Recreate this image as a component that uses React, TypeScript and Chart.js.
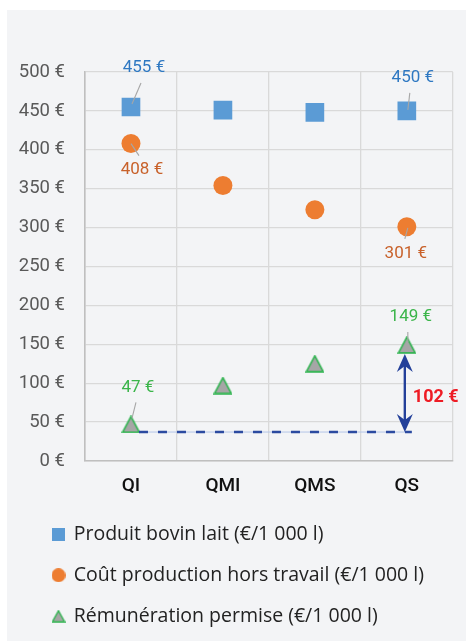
import { useEffect, useRef } from "react";
import { Chart, registerables } from "chart.js";

Chart.register(...registerables);

// ---- data ----
const categories = ["QI", "QMI", "QMS", "QS"];
const produitBovin = [455, 451, 448, 450];
const coutProduction = [408, 354, 323, 301];
const remuneration = [47, 97, 125, 149];
const seriesNames = [
  "Produit bovin lait (€/1 000 l)",
  "Coût production hors travail (€/1 000 l)",
  "Rémunération permise (€/1 000 l)",
];
const yMin = 0;
const yMax = 500;
const yStep = 50;

// labelled points: dataset index, category index
const labelledPoints = [
  { ds: 0, i: 0 },
  { ds: 1, i: 0 },
  { ds: 0, i: 3 },
  { ds: 1, i: 3 },
  { ds: 2, i: 0 },
  { ds: 2, i: 3 },
];
// gap annotation between the remuneration of the first and the last category
const gapFromIndex = 0;
const gapToIndex = 3;

// ---- styles (positions relative to the points, in px) ----
const labelLayout = [
  { dx: 13, dy: -39, l: [10, -24, 1, -3] },
  { dx: 11, dy: 26, l: [0, 0, 8, 12] },
  { dx: 6, dy: -33, l: [3, -18, 1, -1] },
  { dx: -1, dy: 27, l: [1, 1, -2, 12] },
  { dx: 7, dy: -37, l: [5, -22, 1, -6] },
  { dx: 4, dy: -28, l: [1, -13, 1, -3] },
];
const labelColors = ["#2e78c2", "#c8612a", "#3bb54a"];
const FONT = "Roboto, 'Noto Sans', sans-serif";
const LEGEND_FONT = "'Open Sans', Roboto, sans-serif";

function makeMarker(shape: string, w: number, h: number, fill: string, stroke?: string, lw = 0) {
  const c = document.createElement("canvas");
  c.width = w;
  c.height = h;
  const ctx = c.getContext("2d")!;
  ctx.fillStyle = fill;
  if (shape === "rect") {
    ctx.fillRect(0, 0, w, h);
  } else if (shape === "circle") {
    ctx.beginPath();
    ctx.arc(w / 2, h / 2, Math.min(w, h) / 2, 0, Math.PI * 2);
    ctx.fill();
  } else {
    const p = lw / 2 + 0.3;
    ctx.beginPath();
    ctx.moveTo(w / 2, p);
    ctx.lineTo(w - p, h - p);
    ctx.lineTo(p, h - p);
    ctx.closePath();
    ctx.fill();
    if (stroke) {
      ctx.strokeStyle = stroke;
      ctx.lineWidth = lw;
      ctx.lineJoin = "miter";
      ctx.stroke();
    }
  }
  return c;
}

function drawArrowHead(ctx: CanvasRenderingContext2D, x: number, tipY: number, dir: number) {
  // dir = 1 : pointing up (tip on top), -1 : pointing down
  const len = 18;
  const half = 8;
  const notch = 12;
  ctx.beginPath();
  ctx.moveTo(x, tipY);
  ctx.lineTo(x + half, tipY + dir * len);
  ctx.lineTo(x, tipY + dir * notch);
  ctx.lineTo(x - half, tipY + dir * len);
  ctx.closePath();
  ctx.fill();
}

export default function App() {
  const ref = useRef<HTMLCanvasElement | null>(null);

  useEffect(() => {
    if (!ref.current) return;

    const triPoint = makeMarker("triangle", 19, 18, "#a6a6a6", "#2fb34f", 1.6);
    const legendMarkers = [
      makeMarker("rect", 13, 13, "#5b9bd5"),
      makeMarker("circle", 14, 14, "#ed7d31"),
      makeMarker("triangle", 14, 13, "#a6a6a6", "#2fb34f", 1.4),
    ];

    const legendShift = {
      id: "legendShift",
      afterLayout(chart: any) {
        if (chart.legend) chart.legend.left += 16.5;
      },
    };

    const labelsPlugin = {
      id: "pointLabels",
      afterDatasetsDraw(chart: any) {
        const ctx = chart.ctx as CanvasRenderingContext2D;
        const y = chart.scales.y;
        ctx.save();
        // gap annotation
        const metaR = chart.getDatasetMeta(2);
        const pFrom = metaR.data[gapFromIndex];
        const pTo = metaR.data[gapToIndex];
        const baseY = y.getPixelForValue(remuneration[gapFromIndex]) + 7.6;
        const topY = y.getPixelForValue(remuneration[gapToIndex]) + 9;
        const x0 = pFrom.x + 8;
        const x1 = pTo.x + 5;
        ctx.strokeStyle = "#b4c6e7";
        ctx.lineWidth = 1;
        ctx.beginPath();
        ctx.moveTo(x0, baseY);
        ctx.lineTo(x1, baseY);
        ctx.stroke();
        ctx.strokeStyle = "#2b4aa0";
        ctx.lineWidth = 2.6;
        ctx.setLineDash([9, 10]);
        ctx.beginPath();
        ctx.moveTo(x0, baseY);
        ctx.lineTo(x1, baseY);
        ctx.stroke();
        ctx.setLineDash([]);
        // double arrow
        const ax = pTo.x - 2;
        ctx.strokeStyle = "#23409a";
        ctx.fillStyle = "#23409a";
        ctx.lineWidth = 2.4;
        ctx.beginPath();
        ctx.moveTo(ax, topY + 10);
        ctx.lineTo(ax, baseY - 10);
        ctx.stroke();
        drawArrowHead(ctx, ax, topY, 1);
        drawArrowHead(ctx, ax, baseY, -1);
        // gap value
        const gap = remuneration[gapToIndex] - remuneration[gapFromIndex];
        ctx.fillStyle = "#ee1c25";
        ctx.font = `bold 18px ${FONT}`;
        ctx.textAlign = "left";
        ctx.textBaseline = "middle";
        ctx.fillText(`${gap} €`, ax + 8, (topY + baseY) / 2 + 4);

        // point labels
        labelledPoints.forEach((lp, k) => {
          const el = chart.getDatasetMeta(lp.ds).data[lp.i];
          const v = chart.data.datasets[lp.ds].data[lp.i];
          const lay = labelLayout[k];
          ctx.strokeStyle = "#a6a6a6";
          ctx.lineWidth = 1.1;
          ctx.beginPath();
          ctx.moveTo(el.x + lay.l[0], el.y + lay.l[1]);
          ctx.lineTo(el.x + lay.l[2], el.y + lay.l[3]);
          ctx.stroke();
          ctx.fillStyle = labelColors[lp.ds];
          ctx.font = `17px ${FONT}`;
          ctx.textAlign = "center";
          ctx.textBaseline = "middle";
          ctx.fillText(`${v} €`, el.x + lay.dx, el.y + lay.dy);
        });
        ctx.restore();
      },
    };

    const chart = new Chart(ref.current, {
      type: "line",
      data: {
        labels: categories,
        datasets: [
          {
            label: seriesNames[0],
            data: produitBovin,
            showLine: false,
            pointStyle: "rect",
            pointRadius: 13.2,
            pointBackgroundColor: "#5b9bd5",
            pointBorderWidth: 0,
            borderColor: "#5b9bd5",
            backgroundColor: "#5b9bd5",
          },
          {
            label: seriesNames[1],
            data: coutProduction,
            showLine: false,
            pointStyle: "circle",
            pointRadius: 9.5,
            pointBackgroundColor: "#ed7d31",
            pointBorderWidth: 0,
            borderColor: "#ed7d31",
            backgroundColor: "#ed7d31",
          },
          {
            label: seriesNames[2],
            data: remuneration,
            showLine: false,
            pointStyle: triPoint as any,
            pointRadius: 10,
            pointBackgroundColor: "#a6a6a6",
            pointBorderWidth: 0,
            borderColor: "#2fb34f",
            backgroundColor: "#a6a6a6",
          },
        ],
      },
      options: {
        animation: false,
        responsive: false,
        events: [],
        layout: { padding: { left: 8, right: 13, top: 62, bottom: 5 } },
        font: { family: FONT } as any,
        scales: {
          x: {
            type: "category",
            offset: true,
            grid: { offset: true, color: "#d9d9d9", lineWidth: 1.3, drawTicks: false },
            border: { display: true, color: "#bfbfbf", width: 1.6 },
            ticks: { font: { family: FONT, size: 19, weight: 500 as any }, color: "#111111", padding: 14 },
            afterFit: (s: any) => {
              s.height = 42;
            },
          },
          y: {
            min: yMin,
            max: yMax,
            grid: { color: "#d9d9d9", lineWidth: 1.3, drawTicks: false },
            border: { display: true, color: "#bfbfbf", width: 1.6 },
            ticks: {
              stepSize: yStep,
              padding: 20,
              color: "#595959",
              font: { family: FONT, size: 18.5 },
              callback: (v: any) => `${v} €`,
            },
            afterFit: (s: any) => {
              s.width = 70;
            },
          },
        },
        plugins: {
          tooltip: { enabled: false },
          legend: {
            position: "bottom",
            align: "start",
            labels: {
              usePointStyle: true,
              boxWidth: 11,
              boxHeight: 11,
              padding: 21.5,
              color: "#222222",
              font: { family: LEGEND_FONT, size: 19.5 },
              generateLabels: (c: any) => {
                const items = (Chart.defaults.plugins.legend.labels as any).generateLabels(c);
                return items.map((it: any, k: number) => ({ ...it, pointStyle: legendMarkers[k] }));
              },
            },
          },
        },
      },
      plugins: [labelsPlugin, legendShift],
    });

    return () => chart.destroy();
  }, []);

  return (
    <div
      style={{
        position: "absolute",
        left: 7,
        top: 10,
        width: 459,
        height: 631,
        background: "#f3f4f6",
      }}
    >
      <canvas ref={ref} width={459} height={631} style={{ width: 459, height: 631, display: "block" }} />
    </div>
  );
}
